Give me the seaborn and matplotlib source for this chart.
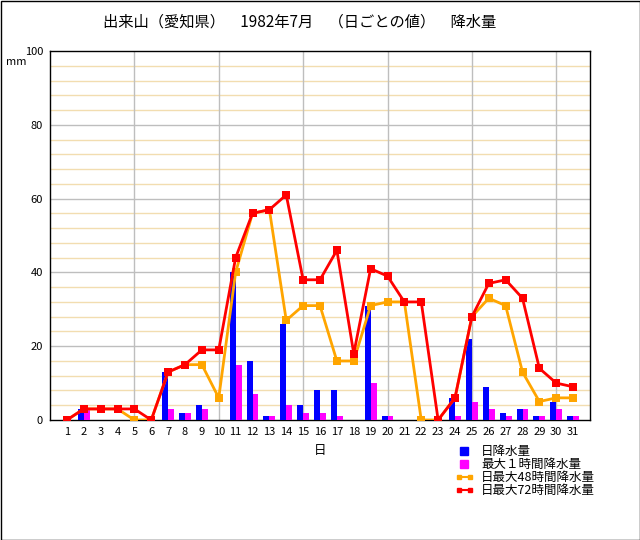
import matplotlib
matplotlib.use("Agg")
import matplotlib.pyplot as plt
import seaborn as sns
import pandas as pd
import numpy as np
from matplotlib.patches import Rectangle
from matplotlib.lines import Line2D
from matplotlib.legend_handler import HandlerLine2D

days = list(range(1, 32))
daily = [0, 3, 0, 0, 0, 0, 13, 2, 4, 0, 40, 16, 1, 26, 4, 8, 8, 0, 31, 1,
         0, 0, 0, 6, 22, 9, 2, 3, 1, 5, 1]
max1h = [0, 3, 0, 0, 0, 0, 3, 2, 3, 0, 15, 7, 1, 4, 2, 2, 1, 0, 10, 1,
         0, 0, 0, 1, 5, 3, 1, 3, 1, 3, 1]
max48h = [0, 3, 3, 3, 0, 0, 13, 15, 15, 6, 40, 56, 57, 27, 31, 31, 16, 16, 31, 32,
          32, 0, 0, 6, 28, 33, 31, 13, 5, 6, 6]
max72h = [0, 3, 3, 3, 3, 0, 13, 15, 19, 19, 44, 56, 57, 61, 38, 38, 46, 18, 41, 39,
          32, 32, 0, 6, 28, 37, 38, 33, 14, 10, 9]
labels = ["日降水量", "最大１時間降水量", "日最大48時間降水量", "日最大72時間降水量"]

plt.rcParams['font.family'] = ['Noto Sans CJK JP', 'DejaVu Sans']

fig = plt.figure(figsize=(6.4, 5.4), dpi=100)
ax = fig.add_axes([50/640, 1-420/540, 540/640, 369/540])

bar_df = pd.DataFrame({
    "day": days * 2,
    "value": daily + max1h,
    "series": [labels[0]] * 31 + [labels[1]] * 31,
})
sns.barplot(data=bar_df, x="day", y="value", hue="series", native_scale=True,
            palette={labels[0]: "#0000FF", labels[1]: "#FF00FF"},
            width=0.7, dodge=True, ax=ax, legend=False, saturation=1,
            linewidth=0, zorder=3)

sns.lineplot(x=days, y=max48h, color="#FFA500", marker="s", markersize=6,
             markeredgewidth=0, linewidth=2, ax=ax, zorder=4)
sns.lineplot(x=days, y=max72h, color="#FF0000", marker="s", markersize=6,
             markeredgewidth=0, linewidth=2, ax=ax, zorder=5)

ax.set_xlim(0, 32)
ax.set_ylim(0, 100)
ax.set_xticks(days)
ax.set_xticklabels([str(d) for d in days], fontsize=8)
ax.set_yticks(range(0, 101, 20))
ax.set_yticklabels([str(v) for v in range(0, 101, 20)], fontsize=8)
ax.tick_params(length=0, pad=5)
ax.set_xlabel("日", fontsize=9, labelpad=5)
ax.set_ylabel("")

for v in range(4, 100, 4):
    ax.axhline(v, color="#F2DDB0" if v % 20 else "#BEBEBE", linewidth=1, zorder=1)
for d in range(5, 31, 5):
    ax.axvline(d, color="#BEBEBE", linewidth=1, zorder=1)
for s in ax.spines.values():
    s.set_color("black")
    s.set_linewidth(1)

fig.text(300/640, 1-22/540, "出来山（愛知県）　1982年7月　（日ごとの値）　降水量",
         ha="center", va="center", fontsize=11)
fig.text(16/640, 1-62/540, "mm", ha="center", va="center", fontsize=8)

h_blue = Line2D([], [], linestyle="none", marker="s", markersize=6, color="#0000FF")
h_mag = Line2D([], [], linestyle="none", marker="s", markersize=6, color="#FF00FF")
h_48 = Line2D([], [], color="#FFA500", marker="s", markersize=3, linewidth=1.5)
h_72 = Line2D([], [], color="#FF0000", marker="s", markersize=3, linewidth=1.5)
fig.legend([h_blue, h_mag, h_48, h_72], labels, loc="upper left",
           bbox_to_anchor=(455/640, 1-445/540),
           frameon=False, fontsize=9, handlelength=1.5, handletextpad=0.6,
           labelspacing=0.0, borderpad=0, borderaxespad=0,
           handler_map={h_blue: HandlerLine2D(numpoints=1),
                        h_mag: HandlerLine2D(numpoints=1),
                        h_48: HandlerLine2D(numpoints=2),
                        h_72: HandlerLine2D(numpoints=2)})

fig.add_artist(Rectangle((0.5/640, 0.5/540), 1-1/640, 1-1/540, transform=fig.transFigure,
                         fill=False, edgecolor="black", linewidth=1))

fig.savefig("out.png", dpi=100)
